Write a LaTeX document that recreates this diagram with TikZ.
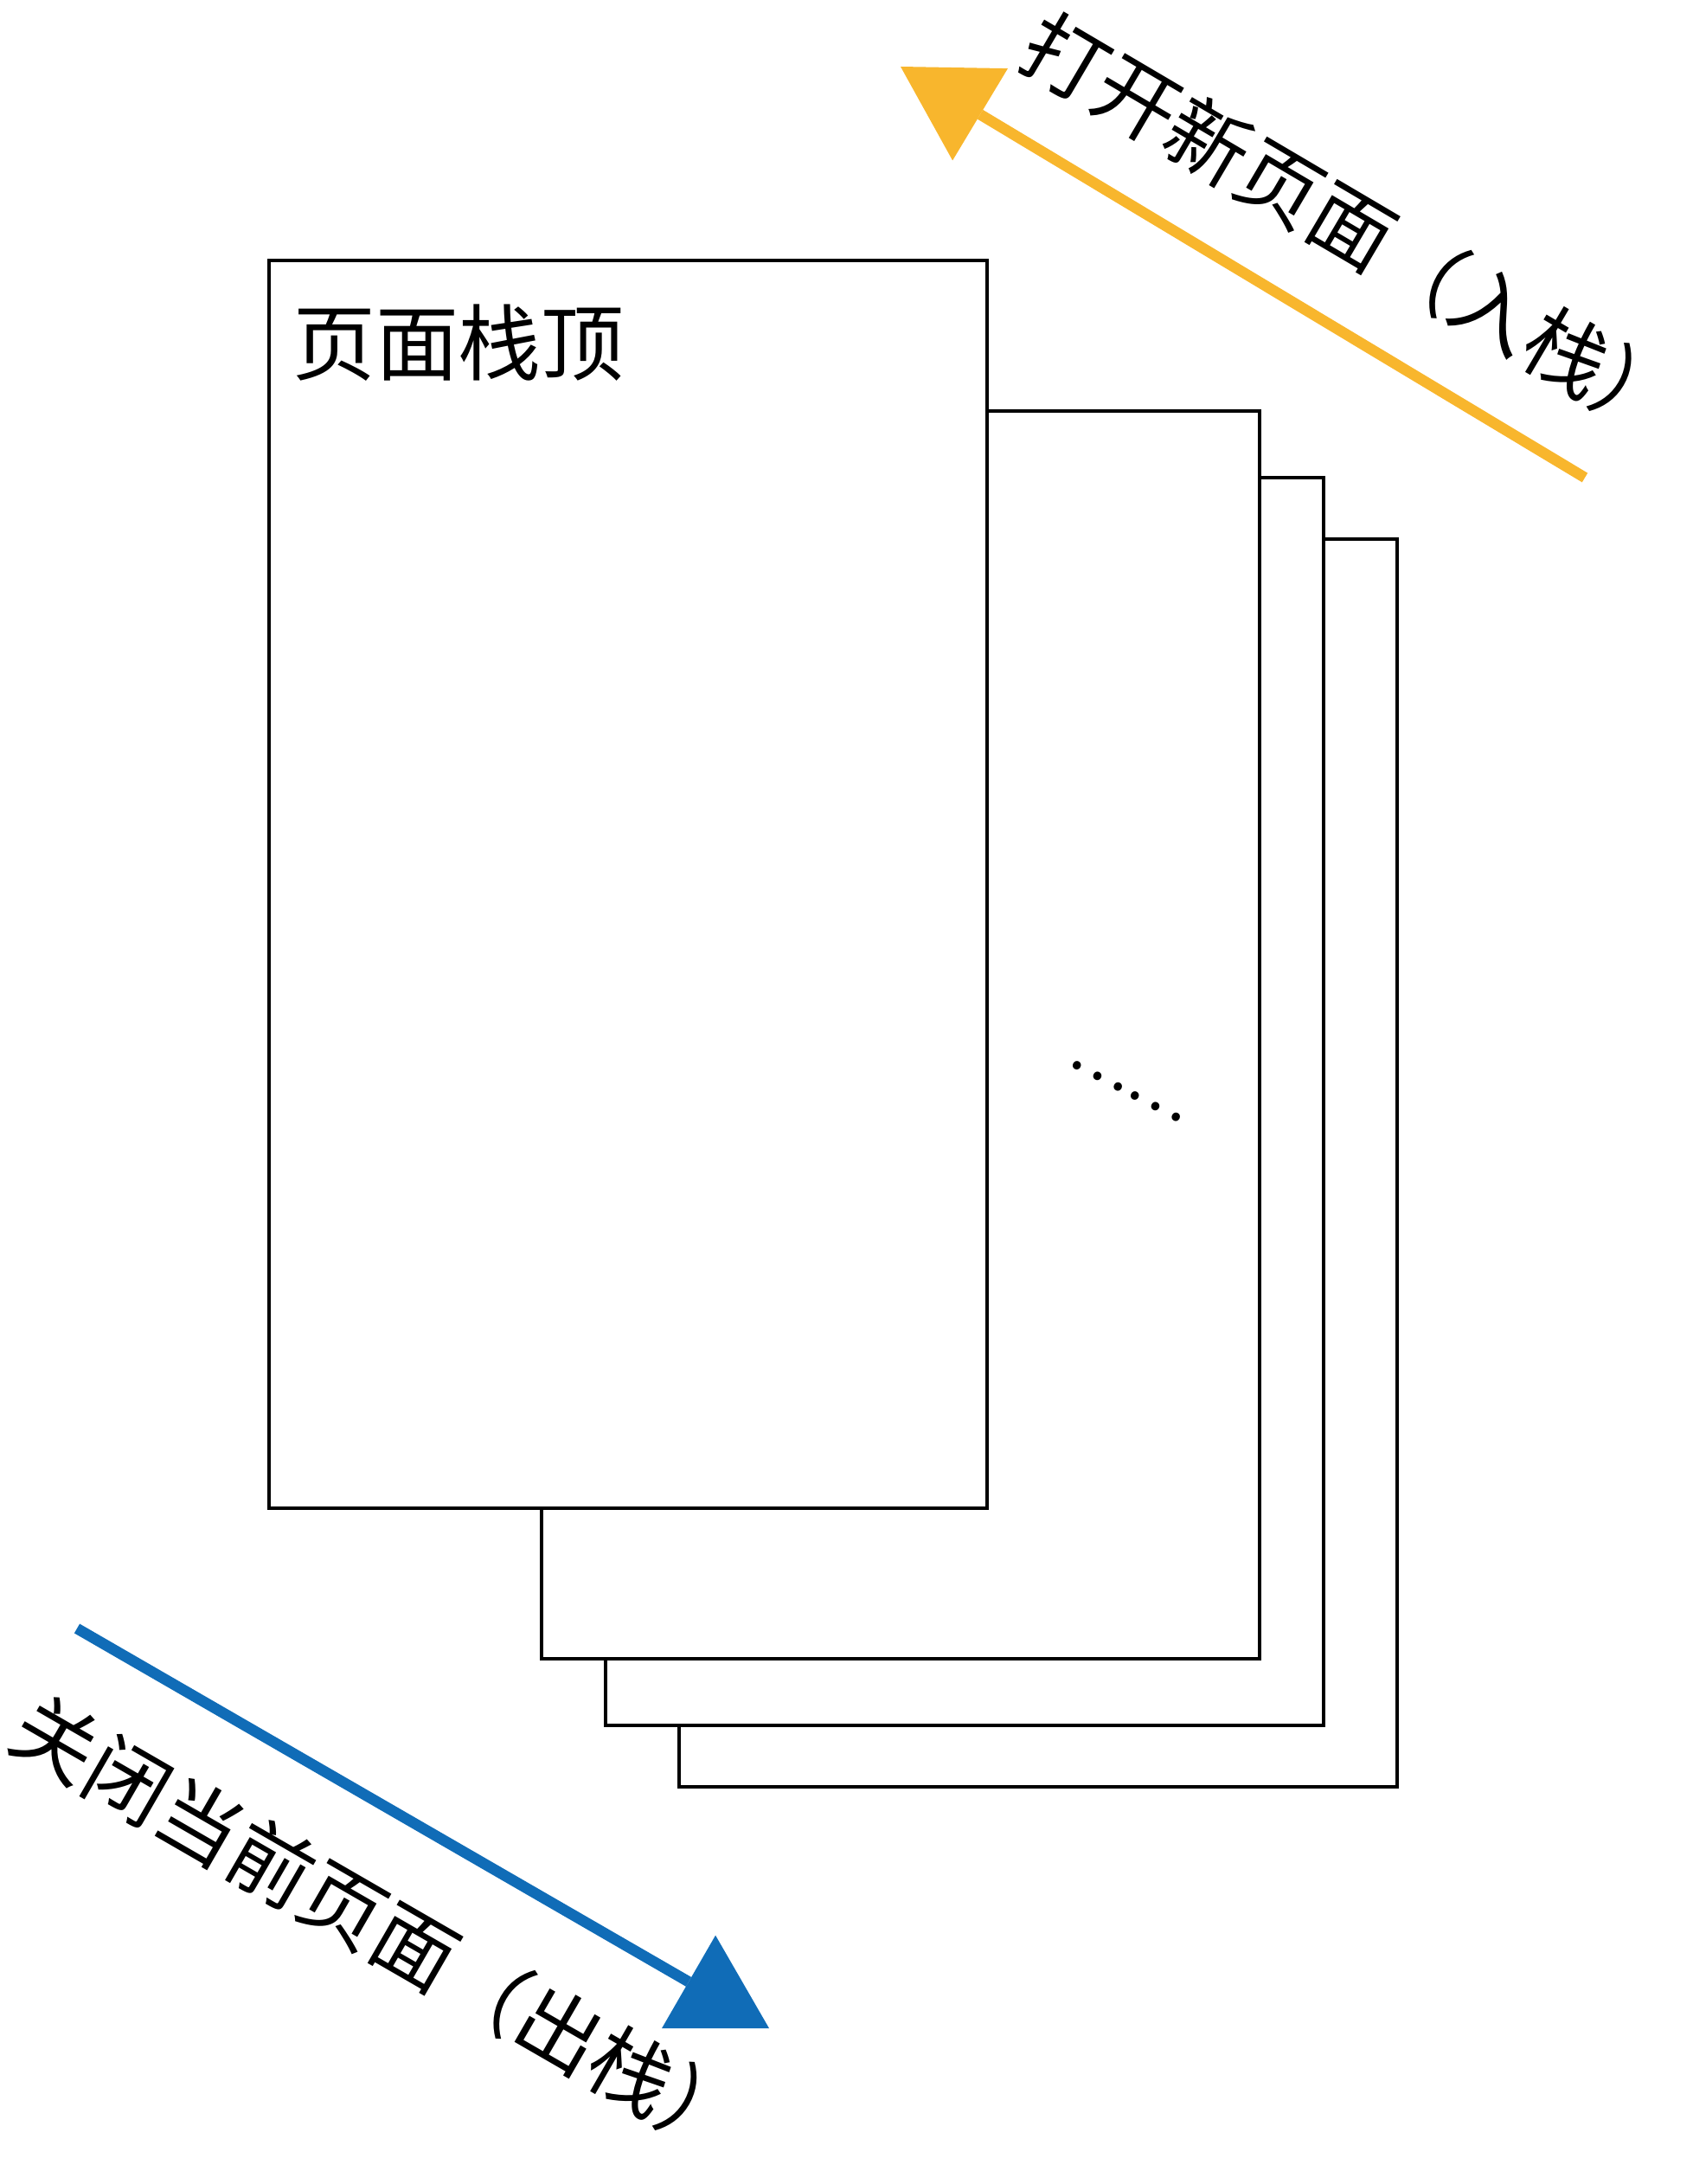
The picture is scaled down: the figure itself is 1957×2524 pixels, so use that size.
\documentclass[tikz,border=0pt]{standalone}
\usepackage{fontspec}
\setmainfont{Noto Sans CJK SC}
\usetikzlibrary{arrows.meta}
\definecolor{orangeA}{RGB}{248,182,45}
\definecolor{blueA}{RGB}{16,108,183}
\tikzset{
  page/.style={draw=black, line width=0.95pt, fill=white, minimum width=249pt, minimum height=432.6pt, anchor=north west, inner sep=0pt, outer sep=0pt},
  lbl/.style={font=\fontsize{28.8pt}{28.8pt}\selectfont, inner sep=0pt, outer sep=0pt},
  dotlbl/.style={font=\fontsize{21.4pt}{21.4pt}\selectfont, inner sep=0pt, outer sep=0pt},
  push/.style={draw=orangeA, line width=3.75pt, -{Triangle[length=32.2pt,width=37.2pt,line width=0pt]}},
  pop/.style={draw=blueA, line width=3.75pt, -{Triangle[length=32.2pt,width=37.2pt,line width=0pt]}}
}
\begin{document}
\begin{tikzpicture}[x=0.3pt,y=-0.3pt]
\useasboundingbox (0,0) rectangle (1957,2524);
\node[page] (p4) at (785,623) {};
\node[page] (p3) at (700,552) {};
\node[page] (p2) at (626,475) {};
\node[page] (p1) at (311,301) {};
\node[lbl, anchor=base west] (toplbl) at (338,432) {页面栈顶};
\node[dotlbl, rotate=-27.4] (dots) at (1301,1261) {……};
\coordinate (oA) at (1832,552);
\coordinate (oB) at (1041,77);
\draw[push] (oA) -- (oB);
\coordinate (bA) at (89,1882);
\coordinate (bB) at (889,2344);
\draw[pop] (bA) -- (bB);
\node[lbl, rotate=-30.5] (pushlbl) at (1563,261) {打开新页面（入栈）};
\node[lbl, rotate=-30] (poplbl) at (439,2226) {关闭当前页面（出栈）};
\end{tikzpicture}
\end{document}
